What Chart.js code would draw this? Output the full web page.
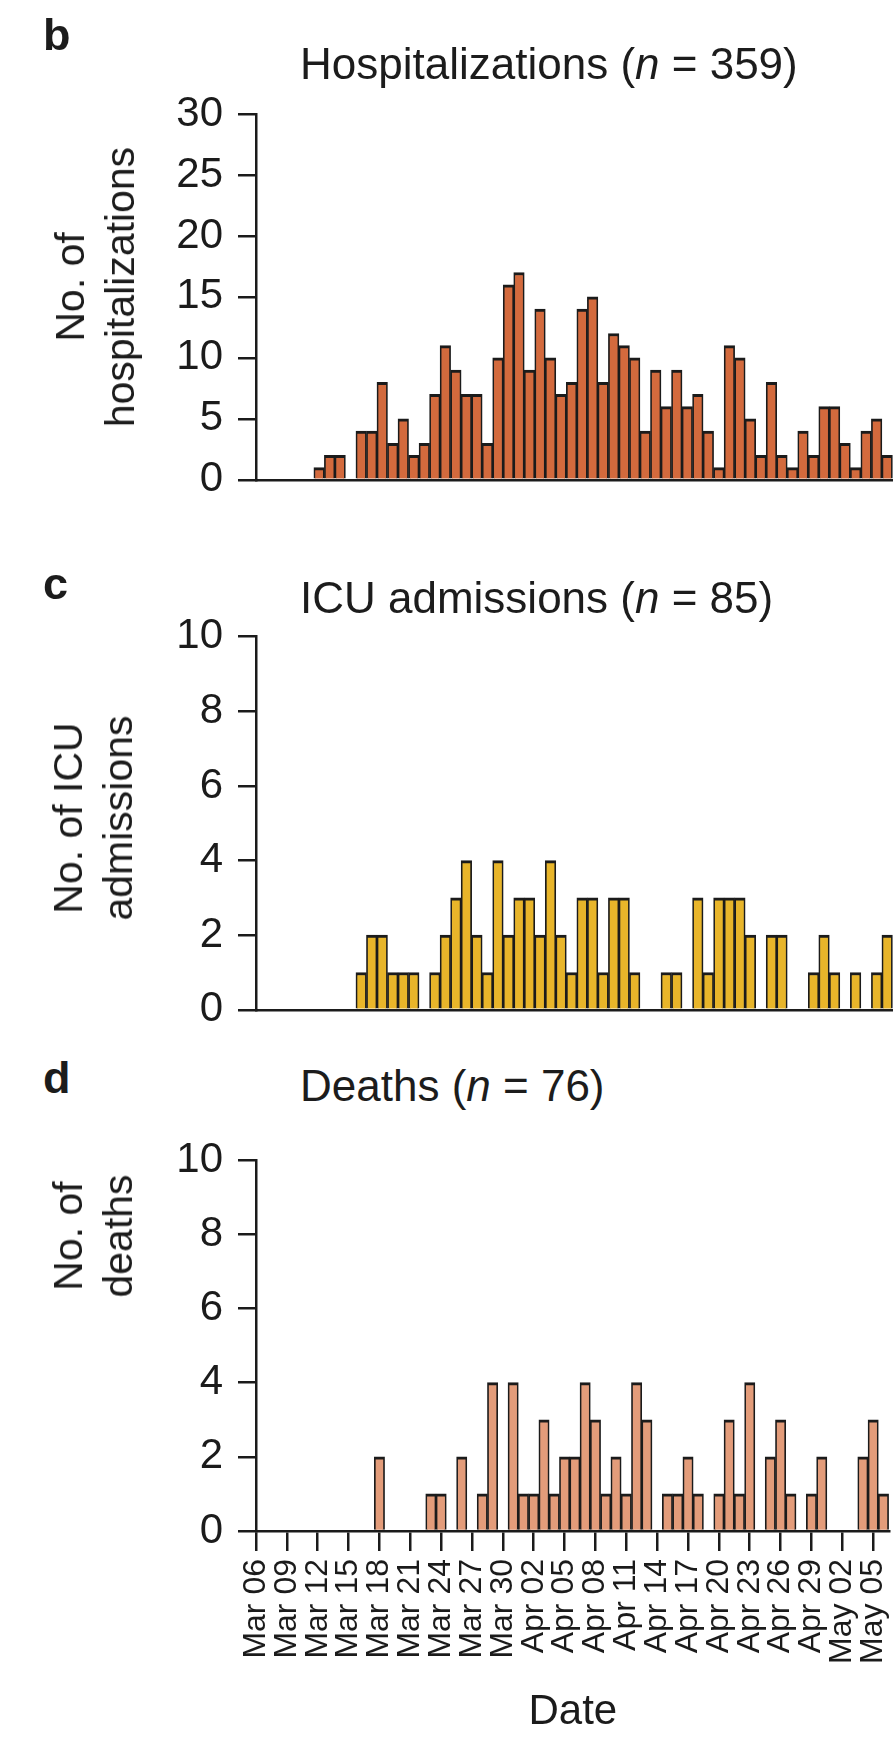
<!DOCTYPE html>
<html>
<head>
<meta charset="utf-8">
<script src="https://cdn.jsdelivr.net/npm/chart.js@4.4.1/dist/chart.umd.min.js"></script>
<style>
  html, body { margin: 0; padding: 0; background: #fff; overflow: hidden; }
  body { width: 893px; height: 1740px; position: relative; font-family: "Liberation Sans", Arial, sans-serif; color: #1c1c1c; }
  canvas { position: absolute; left: 0; }
  .lbl { position: absolute; font-weight: bold; font-size: 45px; line-height: 45px; }
  .ttl { position: absolute; font-size: 44px; line-height: 44px; white-space: nowrap; }
  .ytl { position: absolute; font-size: 41px; line-height: 50px; text-align: center; white-space: nowrap;
         transform: translate(-50%, -50%) rotate(-90deg); }
</style>
</head>
<body>

<canvas id="hosp" width="920" height="520" style="top:0px"></canvas>
<canvas id="icu" width="920" height="490" style="top:560px"></canvas>
<canvas id="deaths" width="920" height="620" style="top:1120px"></canvas>

<div class="lbl" style="left:43px;top:12px">b</div>
<div class="ttl" style="left:300px;top:42px">Hospitalizations (<i>n</i> = 359)</div>
<div class="ytl" style="left:95px;top:287px">No. of<br>hospitalizations</div>

<div class="lbl" style="left:43px;top:561px">c</div>
<div class="ttl" style="left:300px;top:576px">ICU admissions (<i>n</i> = 85)</div>
<div class="ytl" style="left:93px;top:818px">No. of ICU<br>admissions</div>

<div class="lbl" style="left:43px;top:1055px">d</div>
<div class="ttl" style="left:300px;top:1064px">Deaths (<i>n</i> = 76)</div>
<div class="ytl" style="left:93px;top:1236px">No. of<br>deaths</div>

<script>
// daily counts, first entry = Mar 06, last = May 06
const hospitalizations = [
  0, 0, 0, 0, 0, 0, 1, 2, 2, 0,
  4, 4, 8, 3, 5, 2, 3, 7, 11, 9,
  7, 7, 3, 10, 16, 17, 9, 14, 10, 7,
  8, 14, 15, 8, 12, 11, 10, 4, 9, 6,
  9, 6, 7, 4, 1, 11, 10, 5, 2, 8,
  2, 1, 4, 2, 6, 6, 3, 1, 4, 5,
  2, 0
];
const icuAdmissions = [
  0, 0, 0, 0, 0, 0, 0, 0, 0, 0,
  1, 2, 2, 1, 1, 1, 0, 1, 2, 3,
  4, 2, 1, 4, 2, 3, 3, 2, 4, 2,
  1, 3, 3, 1, 3, 3, 1, 0, 0, 1,
  1, 0, 3, 1, 3, 3, 3, 2, 0, 2,
  2, 0, 0, 1, 2, 1, 0, 1, 0, 1,
  2, 0
];
const deaths = [
  0, 0, 0, 0, 0, 0, 0, 0, 0, 0,
  0, 0, 2, 0, 0, 0, 0, 1, 1, 0,
  2, 0, 1, 4, 0, 4, 1, 1, 3, 1,
  2, 2, 4, 3, 1, 2, 1, 4, 3, 0,
  1, 1, 2, 1, 0, 1, 3, 1, 4, 0,
  2, 3, 1, 0, 1, 2, 0, 0, 0, 2,
  3, 1
];

// one label every third day
const tickLabels = ['Mar 06', 'Mar 09', 'Mar 12', 'Mar 15', 'Mar 18', 'Mar 21', 'Mar 24', 'Mar 27', 'Mar 30',
  'Apr 02', 'Apr 05', 'Apr 08', 'Apr 11', 'Apr 14', 'Apr 17', 'Apr 20', 'Apr 23', 'Apr 26', 'Apr 29',
  'May 02', 'May 05'];
const tickStep = 3;

const hospTicks = [0, 5, 10, 15, 20, 25, 30];
const smallTicks = [0, 2, 4, 6, 8, 10];

const ink = '#1b1b1b';
const xMin = 0;
const xMax = 61.6;
const axisLeft = 256;

Chart.defaults.font.family = '"Liberation Sans", Arial, sans-serif';
Chart.defaults.color = ink;

const makePanel = (id, values, fill, yTicks, padTop, padBottom, dates) => {
  const points = values.map((v, i) => ({ x: i, y: v ? v : null }));

  const xAxis = {
    type: 'linear',
    min: xMin,
    max: xMax,
    offset: false,
    border: { display: true, color: ink, width: 2.5 },
    grid: { display: true, offset: false, drawOnChartArea: false, drawTicks: dates, tickLength: 20, color: ink, lineWidth: 2.5 },
    ticks: {
      display: dates,
      autoSkip: false,
      minRotation: 90,
      maxRotation: 90,
      padding: 8,
      font: { size: 32 },
      callback: (v) => tickLabels[v / tickStep]
    },
    afterBuildTicks: (s) => {
      s.ticks = tickLabels.map((t, i) => ({ value: i * tickStep }));
    }
  };
  if (dates) {
    xAxis.title = { display: true, text: 'Date', font: { size: 42 }, padding: { top: 0, bottom: 2 } };
    xAxis.afterFit = (s) => { s.height = 209; };
  } else {
    xAxis.afterFit = (s) => { s.height = 0; };
  }

  return new Chart(document.getElementById(id), {
    type: 'bar',
    data: {
      datasets: [{
        data: points,
        backgroundColor: fill,
        borderColor: ink,
        borderWidth: { top: 3, left: 1.7, right: 1.7, bottom: 0 },
        borderSkipped: 'start',
        barPercentage: 1,
        categoryPercentage: 1
      }]
    },
    options: {
      responsive: false,
      animation: false,
      devicePixelRatio: 1,
      layout: { padding: { top: padTop, bottom: padBottom, left: 0, right: 16 } },
      plugins: { legend: { display: false }, tooltip: { enabled: false } },
      scales: {
        x: xAxis,
        y: {
          min: yTicks[0],
          max: yTicks[yTicks.length - 1],
          border: { display: true, color: ink, width: 2.5 },
          grid: { drawOnChartArea: false, tickLength: 18, color: ink, lineWidth: 2.5 },
          ticks: { font: { size: 42 }, padding: 15 },
          afterBuildTicks: (s) => { s.ticks = yTicks.map((v) => ({ value: v })); },
          afterFit: (s) => { s.width = axisLeft; }
        }
      }
    }
  });
};

makePanel('hosp', hospitalizations, '#d36a3d', hospTicks, 114, 32, false);
makePanel('icu', icuAdmissions, '#e8b52a', smallTicks, 76.7, 39.3, false);
makePanel('deaths', deaths, '#e39c7a', smallTicks, 36, 0, true);
</script>
</body>
</html>
